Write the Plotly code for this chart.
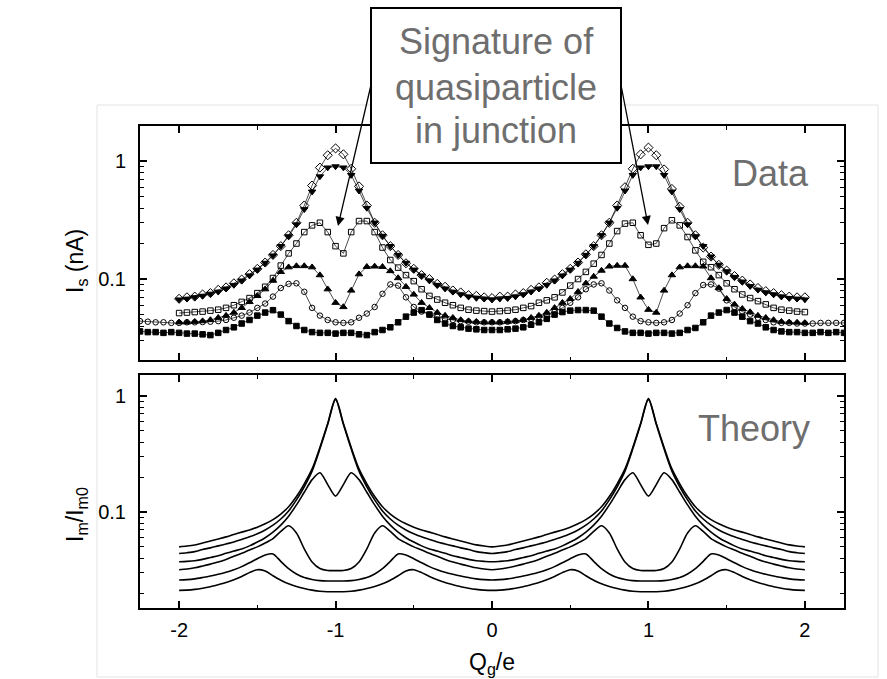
import plotly.graph_objects as go

# ---------------- data ----------------
Q_DATA = [round(-2.0 + 0.05 * i, 2) for i in range(81)]
Q_WIDE = [round(-2.25 + 0.05 * i, 2) for i in range(91)]
Q_THEORY = [round(-2.0 + 0.05 * i, 2) for i in range(81)]

DIAMOND_OPEN = [
    0.068, 0.070, 0.071, 0.074, 0.076, 0.081, 0.085, 0.092, 0.099, 0.110, 0.122, 0.138, 0.160, 0.19, 0.235, 0.30, 0.42, 0.62, 0.88, 1.12, 1.28,
    1.14, 0.86, 0.61, 0.42, 0.30, 0.235, 0.19, 0.160, 0.136, 0.122, 0.108, 0.100, 0.091, 0.086, 0.080, 0.077, 0.073, 0.072, 0.070, 0.069,
    0.071, 0.071, 0.074, 0.076, 0.081, 0.085, 0.093, 0.099, 0.110, 0.122, 0.138, 0.162, 0.19, 0.235, 0.30, 0.42, 0.60, 0.86, 1.14, 1.30,
    1.12, 0.85, 0.58, 0.41, 0.30, 0.235, 0.185, 0.155, 0.132, 0.118, 0.106, 0.097, 0.090, 0.084, 0.079, 0.076, 0.073, 0.071, 0.070, 0.070]
TRIANGLE_DOWN = [
    0.067, 0.068, 0.070, 0.072, 0.075, 0.078, 0.083, 0.089, 0.097, 0.107, 0.120, 0.137, 0.158, 0.19, 0.23, 0.29, 0.39, 0.55, 0.74, 0.88, 0.90,
    0.88, 0.76, 0.56, 0.40, 0.30, 0.232, 0.19, 0.16, 0.137, 0.120, 0.107, 0.097, 0.089, 0.083, 0.078, 0.074, 0.071, 0.069, 0.068, 0.067,
    0.068, 0.069, 0.071, 0.074, 0.078, 0.083, 0.089, 0.097, 0.107, 0.120, 0.137, 0.16, 0.19, 0.235, 0.30, 0.40, 0.56, 0.76, 0.88, 0.90,
    0.90, 0.76, 0.55, 0.39, 0.29, 0.23, 0.19, 0.155, 0.132, 0.116, 0.104, 0.095, 0.087, 0.081, 0.077, 0.074, 0.071, 0.069, 0.068, 0.067]
SQUARE_OPEN = [
    0.0515, 0.052, 0.0525, 0.053, 0.054, 0.055, 0.057, 0.060, 0.064, 0.069, 0.076, 0.086, 0.102, 0.13, 0.165, 0.20, 0.25, 0.285, 0.30, 0.25, 0.19,
    0.165, 0.25, 0.31, 0.31, 0.25, 0.185, 0.145, 0.125, 0.108, 0.096, 0.082, 0.072, 0.067, 0.063, 0.060, 0.057, 0.055, 0.054, 0.0535, 0.053,
    0.0535, 0.054, 0.055, 0.057, 0.059, 0.063, 0.066, 0.070, 0.077, 0.088, 0.100, 0.115, 0.135, 0.16, 0.20, 0.255, 0.295, 0.30, 0.235, 0.195,
    0.20, 0.27, 0.315, 0.285, 0.227, 0.175, 0.14, 0.126, 0.108, 0.092, 0.082, 0.074, 0.069, 0.065, 0.061, 0.057, 0.055, 0.054, 0.053, 0.0525]
TRIANGLE_UP = [
    0.043, 0.043, 0.0435, 0.044, 0.045, 0.047, 0.049, 0.052, 0.057, 0.064, 0.072, 0.082, 0.097, 0.115, 0.126, 0.129, 0.129, 0.126, 0.108, 0.082, 0.063,
    0.058, 0.080, 0.110, 0.127, 0.128, 0.127, 0.117, 0.102, 0.086, 0.074, 0.063, 0.057, 0.052, 0.049, 0.047, 0.045, 0.044, 0.0435, 0.043, 0.043,
    0.043, 0.0435, 0.044, 0.045, 0.047, 0.049, 0.052, 0.057, 0.063, 0.068, 0.078, 0.092, 0.105, 0.118, 0.128, 0.130, 0.130, 0.100, 0.070, 0.055,
    0.052, 0.080, 0.108, 0.126, 0.129, 0.129, 0.128, 0.102, 0.084, 0.068, 0.061, 0.056, 0.0525, 0.049, 0.047, 0.045, 0.0435, 0.043, 0.0428, 0.0425]
CIRCLE_OPEN = [
    0.044, 0.0435, 0.043, 0.043, 0.0425, 0.0425, 0.043, 0.043, 0.0432, 0.0435, 0.044, 0.045, 0.047, 0.049, 0.052, 0.057, 0.062, 0.071, 0.084, 0.091,
    0.092, 0.078, 0.057, 0.049, 0.045, 0.043,
    0.0425, 0.043, 0.047, 0.051, 0.058, 0.075, 0.090, 0.088, 0.070, 0.058, 0.053, 0.050, 0.048, 0.046, 0.045, 0.044, 0.0435, 0.043, 0.043, 0.043,
    0.043, 0.0435, 0.044, 0.045, 0.046, 0.048, 0.050, 0.053, 0.057, 0.063, 0.070, 0.082, 0.090, 0.092, 0.080, 0.066, 0.057, 0.048, 0.044, 0.043,
    0.0425, 0.043, 0.045, 0.051, 0.060, 0.076, 0.089, 0.090, 0.083, 0.066, 0.058, 0.053, 0.050, 0.047, 0.045, 0.043, 0.0425, 0.0425, 0.042, 0.042,
    0.042, 0.0425, 0.0425, 0.0425, 0.0425]
SQUARE_FILLED = [
    0.036, 0.0355, 0.0355, 0.035, 0.0355, 0.035, 0.0345, 0.0345, 0.034, 0.0335, 0.035, 0.037, 0.039, 0.042, 0.045, 0.049, 0.052, 0.0545, 0.050, 0.044,
    0.040, 0.037, 0.0355, 0.035, 0.035, 0.0345,
    0.035, 0.035, 0.034, 0.0335, 0.0355, 0.037, 0.039, 0.043, 0.048, 0.052, 0.0545, 0.050, 0.045, 0.042, 0.040, 0.039, 0.038, 0.0375, 0.037, 0.037,
    0.037, 0.0375, 0.038, 0.039, 0.041, 0.043, 0.046, 0.050, 0.0525, 0.054, 0.0546, 0.0546, 0.054, 0.048, 0.042, 0.0385, 0.036, 0.035, 0.035, 0.0345,
    0.035, 0.035, 0.0345, 0.035, 0.037, 0.0385, 0.043, 0.049, 0.052, 0.0546, 0.052, 0.048, 0.044, 0.042, 0.039, 0.037, 0.036, 0.0355, 0.0355, 0.035,
    0.035, 0.0355, 0.035, 0.0355, 0.035]

THEORY_1 = [
    0.050, 0.0508, 0.052, 0.054, 0.0562, 0.0585, 0.061, 0.064, 0.067, 0.070, 0.074, 0.079, 0.086, 0.096, 0.111, 0.136, 0.175, 0.235, 0.36, 0.58, 0.95,
    0.58, 0.36, 0.235, 0.175, 0.136, 0.111, 0.096, 0.086, 0.079, 0.074, 0.070, 0.067, 0.064, 0.061, 0.0585, 0.0562, 0.054, 0.052, 0.0508, 0.050,
    0.0508, 0.052, 0.054, 0.0562, 0.0585, 0.061, 0.064, 0.067, 0.070, 0.074, 0.079, 0.086, 0.096, 0.111, 0.136, 0.175, 0.235, 0.36, 0.58, 0.95,
    0.58, 0.36, 0.235, 0.175, 0.136, 0.111, 0.096, 0.086, 0.079, 0.074, 0.070, 0.067, 0.064, 0.061, 0.0585, 0.0562, 0.054, 0.052, 0.0508, 0.050]
THEORY_2 = [
    0.0438, 0.0445, 0.0455, 0.0475, 0.049, 0.051, 0.053, 0.055, 0.058, 0.061, 0.065, 0.070, 0.077, 0.087, 0.102, 0.127, 0.165, 0.225, 0.35, 0.57, 0.93,
    0.57, 0.35, 0.225, 0.165, 0.127, 0.102, 0.087, 0.077, 0.070, 0.065, 0.061, 0.058, 0.055, 0.053, 0.051, 0.049, 0.0475, 0.0455, 0.0445, 0.0438,
    0.0445, 0.0455, 0.0475, 0.049, 0.051, 0.053, 0.055, 0.058, 0.061, 0.065, 0.070, 0.077, 0.087, 0.102, 0.127, 0.165, 0.225, 0.35, 0.57, 0.93,
    0.57, 0.35, 0.225, 0.165, 0.127, 0.102, 0.087, 0.077, 0.070, 0.065, 0.061, 0.058, 0.055, 0.053, 0.051, 0.049, 0.0475, 0.0455, 0.0445, 0.0438]
THEORY_3 = [
    0.0372, 0.0375, 0.038, 0.039, 0.0405, 0.042, 0.044, 0.046, 0.048, 0.051, 0.055, 0.060, 0.067, 0.077, 0.092, 0.115, 0.148, 0.19, 0.218, 0.172, 0.137,
    0.172, 0.218, 0.19, 0.148, 0.115, 0.092, 0.077, 0.067, 0.060, 0.055, 0.051, 0.048, 0.046, 0.044, 0.042, 0.0405, 0.039, 0.038, 0.0375, 0.0372,
    0.0375, 0.038, 0.039, 0.0405, 0.042, 0.044, 0.046, 0.048, 0.051, 0.055, 0.060, 0.067, 0.077, 0.092, 0.115, 0.148, 0.19, 0.218, 0.172, 0.137,
    0.172, 0.218, 0.19, 0.148, 0.115, 0.092, 0.077, 0.067, 0.060, 0.055, 0.051, 0.048, 0.046, 0.044, 0.042, 0.0405, 0.039, 0.038, 0.0375, 0.0372]
THEORY_4 = [
    0.0318, 0.0322, 0.0330, 0.0342, 0.0355, 0.037, 0.039, 0.0415, 0.044, 0.047, 0.050, 0.054, 0.059, 0.068, 0.076, 0.066, 0.048, 0.037, 0.0325, 0.0313, 0.0312,
    0.0313, 0.0325, 0.037, 0.048, 0.066, 0.076, 0.068, 0.059, 0.054, 0.050, 0.047, 0.044, 0.0415, 0.039, 0.037, 0.0355, 0.0342, 0.0330, 0.0322, 0.0318,
    0.0322, 0.0330, 0.0342, 0.0355, 0.037, 0.039, 0.0415, 0.044, 0.047, 0.050, 0.054, 0.059, 0.068, 0.076, 0.066, 0.048, 0.037, 0.0325, 0.0313, 0.0312,
    0.0313, 0.0325, 0.037, 0.048, 0.066, 0.076, 0.068, 0.059, 0.054, 0.050, 0.047, 0.044, 0.0415, 0.039, 0.037, 0.0355, 0.0342, 0.0330, 0.0322, 0.0318]
THEORY_5 = [
    0.0259, 0.0261, 0.0265, 0.0272, 0.0280, 0.0290, 0.0302, 0.0318, 0.0338, 0.0365, 0.0395, 0.0425, 0.0435, 0.0375, 0.0325, 0.0292, 0.0272, 0.0262, 0.0256, 0.0254, 0.0254,
    0.0254, 0.0256, 0.0262, 0.0272, 0.0292, 0.0325, 0.0375, 0.0435, 0.0425, 0.0395, 0.0365, 0.0338, 0.0318, 0.0302, 0.0290, 0.0280, 0.0272, 0.0265, 0.0261, 0.0259,
    0.0261, 0.0265, 0.0272, 0.0280, 0.0290, 0.0302, 0.0318, 0.0338, 0.0365, 0.0395, 0.0425, 0.0435, 0.0375, 0.0325, 0.0292, 0.0272, 0.0262, 0.0256, 0.0254, 0.0254,
    0.0254, 0.0256, 0.0262, 0.0272, 0.0292, 0.0325, 0.0375, 0.0435, 0.0425, 0.0395, 0.0365, 0.0338, 0.0318, 0.0302, 0.0290, 0.0280, 0.0272, 0.0265, 0.0261, 0.0259]
THEORY_6 = [
    0.0211, 0.0212, 0.0215, 0.0220, 0.0227, 0.0236, 0.0246, 0.0260, 0.0278, 0.0300, 0.0318, 0.0310, 0.0282, 0.0258, 0.0240, 0.0228, 0.0219, 0.0212, 0.0207, 0.0205, 0.0205,
    0.0205, 0.0207, 0.0212, 0.0219, 0.0228, 0.0240, 0.0258, 0.0282, 0.0310, 0.0318, 0.0300, 0.0278, 0.0260, 0.0246, 0.0236, 0.0227, 0.0220, 0.0215, 0.0212, 0.0211,
    0.0212, 0.0215, 0.0220, 0.0227, 0.0236, 0.0246, 0.0260, 0.0278, 0.0300, 0.0318, 0.0310, 0.0282, 0.0258, 0.0240, 0.0228, 0.0219, 0.0212, 0.0207, 0.0205, 0.0205,
    0.0205, 0.0207, 0.0212, 0.0219, 0.0228, 0.0240, 0.0258, 0.0282, 0.0310, 0.0318, 0.0300, 0.0278, 0.0260, 0.0246, 0.0236, 0.0227, 0.0220, 0.0215, 0.0212, 0.0211]

X_TICKS = [-2, -1, 0, 1, 2]
X_TICK_TEXT = ["-2", "-1", "0", "1", "2"]
Y_TICKS = [0.1, 1]
Y_TICK_TEXT = ["0.1", "1"]
Y_MINOR = [0.02, 0.03, 0.04, 0.05, 0.06, 0.07, 0.08, 0.09, 0.2, 0.3, 0.4, 0.5, 0.6, 0.7, 0.8, 0.9, 2]

# ---------------- layout helpers ----------------
W, H = 887, 679
PL, PR, PT, PB = 140, 844, 126, 608
TOP_BOTTOM, BOT_TOP = 360, 375


def fx(px):
    return (px - PL) / (PR - PL)


def fy(py):
    return (PB - py) / (PB - PT)


FONT = "Arial, 'Liberation Sans', Helvetica, sans-serif"
GRAY = "#6e6e6e"

fig = go.Figure()

data_series = [
    (Q_WIDE, SQUARE_FILLED, "square", 5.5),
    (Q_WIDE, CIRCLE_OPEN, "circle-open", 5.5),
    (Q_DATA, TRIANGLE_UP, "triangle-up", 6.5),
    (Q_DATA, SQUARE_OPEN, "square-open", 5.5),
    (Q_DATA, TRIANGLE_DOWN, "triangle-down", 6.5),
    (Q_DATA, DIAMOND_OPEN, "diamond-open", 7),
]
for xs, ys, sym, sz in data_series:
    fig.add_trace(go.Scatter(
        x=xs, y=ys, mode="lines+markers", xaxis="x", yaxis="y",
        line=dict(color="black", width=0.7),
        marker=dict(symbol=sym, size=sz, color="black", line=dict(color="black", width=1)),
        showlegend=False, hoverinfo="skip"))

for ys in [THEORY_1, THEORY_2, THEORY_3, THEORY_4, THEORY_5, THEORY_6]:
    fig.add_trace(go.Scatter(
        x=Q_THEORY, y=ys, mode="lines", xaxis="x2", yaxis="y2",
        line=dict(color="black", width=1.6, shape="spline", smoothing=0.8),
        showlegend=False, hoverinfo="skip"))

axis_common = dict(
    showline=True, linecolor="black", linewidth=2, mirror="ticks",
    ticks="inside", ticklen=7, tickwidth=1.5, tickcolor="black",
    showgrid=False, zeroline=False,
    tickfont=dict(family=FONT, size=20, color="black"),
)
x_minor = dict(dtick=0.5, tick0=0, ticks="inside", ticklen=3.5, tickwidth=1.2, tickcolor="black", showgrid=False)
y_minor = dict(tickvals=Y_MINOR, ticks="inside", ticklen=4, tickwidth=1.2, tickcolor="black", showgrid=False)

fig.update_layout(
    width=W, height=H,
    margin=dict(l=PL, r=W - PR, t=PT, b=H - PB),
    paper_bgcolor="white", plot_bgcolor="white",
    xaxis=dict(axis_common, anchor="y", domain=[0, 1], range=[-2.25, 2.25],
               tickvals=X_TICKS, ticktext=X_TICK_TEXT, showticklabels=False, minor=x_minor),
    yaxis=dict(axis_common, anchor="x", domain=[fy(TOP_BOTTOM), 1], type="log", range=[-1.686, 0.297],
               tickvals=Y_TICKS, ticktext=Y_TICK_TEXT, minor=y_minor, ticklabelstandoff=8),
    xaxis2=dict(axis_common, anchor="y2", domain=[0, 1], range=[-2.25, 2.25],
                tickvals=X_TICKS, ticktext=X_TICK_TEXT, minor=x_minor, ticklabelstandoff=3),
    yaxis2=dict(axis_common, anchor="x2", domain=[0, fy(BOT_TOP)], type="log", range=[-1.828, 0.181],
                tickvals=Y_TICKS, ticktext=Y_TICK_TEXT, minor=y_minor, ticklabelstandoff=8),
)

shapes = [
    dict(type="rect", xref="paper", yref="paper", x0=fx(97), x1=fx(878), y0=fy(677), y1=fy(105),
         line=dict(color="#e3e3e3", width=1), fillcolor="rgba(0,0,0,0)", layer="below"),
    dict(type="rect", xref="paper", yref="paper", x0=fx(371), x1=fx(621), y0=fy(163), y1=fy(8),
         line=dict(color="black", width=2), fillcolor="white", layer="above"),
]
fig.update_layout(shapes=shapes)

ann = []
for txt, cy in [("Signature of", 42), ("quasiparticle", 87), ("in junction", 130)]:
    ann.append(dict(text=txt, xref="paper", yref="paper", x=fx(496), y=fy(cy),
                    xanchor="center", yanchor="middle", showarrow=False,
                    font=dict(family=FONT, size=36, color=GRAY)))
ann.append(dict(text="Data", xref="paper", yref="paper", x=fx(770), y=fy(173),
                xanchor="center", yanchor="middle", showarrow=False,
                font=dict(family=FONT, size=36, color=GRAY)))
ann.append(dict(text="Theory", xref="paper", yref="paper", x=fx(754), y=fy(428),
                xanchor="center", yanchor="middle", showarrow=False,
                font=dict(family=FONT, size=36, color=GRAY)))
# arrows from the box to the quasiparticle dips
for tip, tail in [((338, 226), (371, 85)), ((648, 225), (621, 85))]:
    ann.append(dict(text="", xref="paper", yref="paper", x=fx(tip[0]), y=fy(tip[1]),
                    ax=tail[0] - tip[0], ay=tail[1] - tip[1], axref="pixel", ayref="pixel",
                    showarrow=True, arrowhead=2, arrowsize=1.4, arrowwidth=1.3,
                    arrowcolor="black", standoff=0))
# axis titles
ann.append(dict(text="I<sub>s</sub> (nA)", xref="paper", yref="paper", x=fx(76), y=fy(261),
                xanchor="center", yanchor="middle", showarrow=False, textangle=-90,
                font=dict(family=FONT, size=23, color="black")))
ann.append(dict(text="I<sub>m</sub>/I<sub>m0</sub>", xref="paper", yref="paper", x=fx(76), y=fy(515),
                xanchor="center", yanchor="middle", showarrow=False, textangle=-90,
                font=dict(family=FONT, size=23, color="black")))
ann.append(dict(text="Q<sub>g</sub>/e", xref="paper", yref="paper", x=fx(492), y=fy(663),
                xanchor="center", yanchor="middle", showarrow=False,
                font=dict(family=FONT, size=23, color="black")))
fig.update_layout(annotations=ann)

fig.write_html("out.html")
